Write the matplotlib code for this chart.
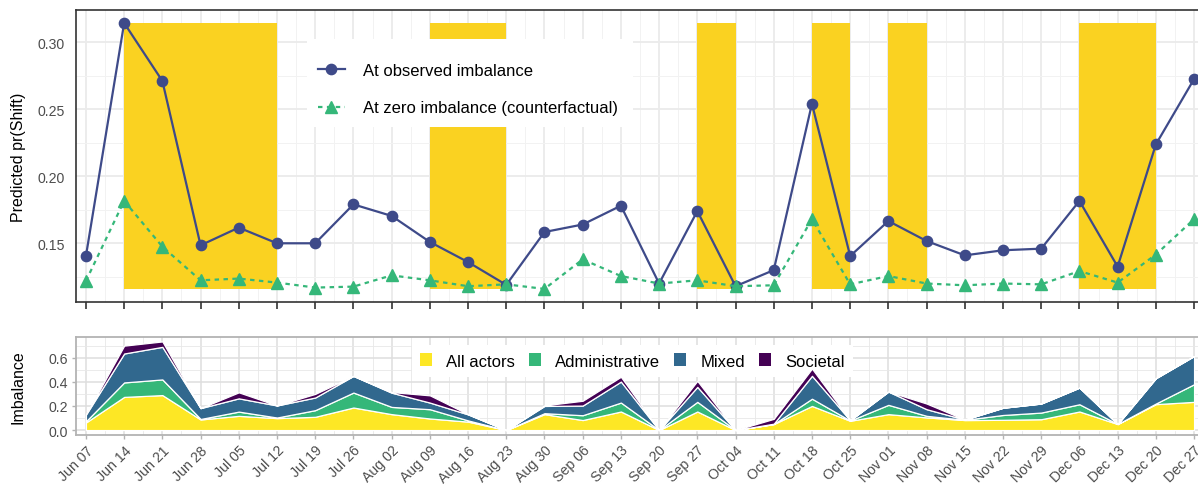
import matplotlib
matplotlib.use("Agg")
import matplotlib.pyplot as plt
from matplotlib.patches import Rectangle
from matplotlib.ticker import MultipleLocator, FixedLocator
import numpy as np

plt.rcParams["font.family"] = ["Liberation Sans", "DejaVu Sans"]

weeks = ["Jun 07", "Jun 14", "Jun 21", "Jun 28", "Jul 05", "Jul 12", "Jul 19", "Jul 26",
         "Aug 02", "Aug 09", "Aug 16", "Aug 23", "Aug 30", "Sep 06", "Sep 13", "Sep 20",
         "Sep 27", "Oct 04", "Oct 11", "Oct 18", "Oct 25", "Nov 01", "Nov 08", "Nov 15",
         "Nov 22", "Nov 29", "Dec 06", "Dec 13", "Dec 20", "Dec 27"]

pr_observed = [0.1405, 0.3142, 0.2710, 0.1485, 0.1617, 0.1500, 0.1500, 0.1790,
               0.1704, 0.1510, 0.1360, 0.1190, 0.1584, 0.1640, 0.1780, 0.1200,
               0.1740, 0.1180, 0.1300, 0.2540, 0.1405, 0.1666, 0.1517, 0.1410,
               0.1448, 0.1460, 0.1816, 0.1326, 0.2237, 0.2724]

pr_zero = [0.1219, 0.1816, 0.1475, 0.1224, 0.1237, 0.1207, 0.1170, 0.1177,
           0.1261, 0.1224, 0.1180, 0.1194, 0.1160, 0.1380, 0.1256, 0.1200,
           0.1224, 0.1180, 0.1187, 0.1680, 0.1194, 0.1256, 0.1200, 0.1187,
           0.1200, 0.1194, 0.1293, 0.1207, 0.1416, 0.1680]

shaded_periods = [("Jun 14", "Jul 12"), ("Aug 09", "Aug 23"), ("Sep 27", "Oct 04"),
                  ("Oct 18", "Oct 25"), ("Nov 01", "Nov 08"), ("Dec 06", "Dec 20")]

imb_all = [0.063, 0.275, 0.290, 0.088, 0.118, 0.099, 0.110, 0.187,
           0.132, 0.096, 0.070, 0.000, 0.132, 0.083, 0.154, 0.000,
           0.154, 0.000, 0.050, 0.200, 0.077, 0.132, 0.105, 0.083,
           0.085, 0.090, 0.154, 0.050, 0.215, 0.234]
imb_admin = [0.010, 0.120, 0.130, 0.004, 0.035, 0.005, 0.055, 0.124,
             0.060, 0.077, 0.010, 0.000, 0.008, 0.040, 0.074, 0.000,
             0.080, 0.000, 0.000, 0.060, 0.002, 0.077, 0.013, 0.002,
             0.040, 0.055, 0.060, 0.000, 0.005, 0.146]
imb_mixed = [0.055, 0.240, 0.270, 0.090, 0.110, 0.100, 0.105, 0.138,
             0.118, 0.055, 0.050, 0.000, 0.060, 0.080, 0.174, 0.000,
             0.124, 0.000, 0.003, 0.190, 0.003, 0.110, 0.055, 0.002,
             0.060, 0.075, 0.138, 0.000, 0.210, 0.234]
imb_societal = [0.000, 0.065, 0.045, 0.000, 0.050, 0.000, 0.030, 0.000,
                0.005, 0.060, 0.002, 0.000, 0.005, 0.040, 0.040, 0.000,
                0.050, 0.000, 0.040, 0.060, 0.000, 0.000, 0.047, 0.000,
                0.000, 0.000, 0.000, 0.000, 0.000, 0.000]

imb_labels = ["All actors", "Administrative", "Mixed", "Societal"]
imb_colors = ["#FDE725", "#35B779", "#31688E", "#440154"]

W, H = 1198, 489
fig = plt.figure(figsize=(W / 100, H / 100), dpi=100)

x = np.arange(len(weeks))
xlim = (-0.26, len(weeks) - 1 + 0.26)
left = 76 / W
width = 1128 / W

# ---- top panel ----
top_h = 292.5
ax1 = fig.add_axes([left, 1 - 303.2 / H, width, top_h / H])
all_vals = pr_observed + pr_zero
lo, hi = min(all_vals), max(all_vals)
pad = (hi - lo) * 0.05
ax1.set_ylim(lo - pad, hi + pad)
ax1.set_xlim(*xlim)

for start, end in shaded_periods:
    i0, i1 = weeks.index(start), weeks.index(end)
    ax1.fill_between([i0, i1], lo, hi, color="#FAD221", linewidth=0, zorder=1)

ax1.plot(x, pr_observed, color="#3E4A89", lw=1.6, marker="o", ms=7.4,
         label="At observed imbalance", zorder=3)
ax1.plot(x, pr_zero, color="#35B779", lw=1.6, ls=(0, (2, 2)), marker="^", ms=8,
         label="At zero imbalance (counterfactual)", zorder=3)

ax1.set_yticks([0.15, 0.20, 0.25, 0.30])
ax1.set_yticklabels(["0.15", "0.20", "0.25", "0.30"])
ax1.yaxis.set_minor_locator(MultipleLocator(0.025))
ax1.set_xticks(x)
ax1.set_xticklabels([])
ax1.xaxis.set_minor_locator(FixedLocator(x[:-1] + 0.5))
ax1.grid(which="major", color="#EBEBEB", lw=1.3, zorder=0)
ax1.grid(which="minor", color="#F2F2F2", lw=0.7, zorder=0)
ax1.set_axisbelow(True)
ax1.tick_params(axis="y", which="both", length=0, labelsize=10.2, labelcolor="#4D4D4D", pad=8)
ax1.tick_params(axis="x", which="major", length=5, width=1.2, color="#333333")
ax1.tick_params(axis="x", which="minor", length=0)
for s in ax1.spines.values():
    s.set_color("#333333")
    s.set_linewidth(1.2)
ax1.set_ylabel("Predicted pr(Shift)", fontsize=11.5)

# legend background box (pixels -> axes fraction)
box_x0, box_x1, box_y0, box_y1 = 307, 633, 40, 128
ax1.add_patch(Rectangle(((box_x0 - 76) / 1128, (303.2 - box_y1) / top_h),
                        (box_x1 - box_x0) / 1128, (box_y1 - box_y0) / top_h,
                        transform=ax1.transAxes, facecolor="white", edgecolor="none",
                        zorder=4))
leg1 = ax1.legend(loc="upper left", bbox_to_anchor=((318 - 76) / 1128, (303.2 - 64) / top_h),
                  borderaxespad=0, borderpad=0, fontsize=12, frameon=False,
                  handlelength=1.6, handletextpad=1.08, labelspacing=1.35)
leg1.set_zorder(5)

# ---- bottom panel ----
ax2 = fig.add_axes([left, 1 - 435.5 / H, width, 97.5 / H])
ax2.stackplot(x, imb_all, imb_admin, imb_mixed, imb_societal, labels=imb_labels,
              colors=imb_colors, edgecolor="white", linewidth=0.9, zorder=2)
ax2.set_xlim(*xlim)
totals = np.sum([imb_all, imb_admin, imb_mixed, imb_societal], axis=0)
tmax = totals.max()
ax2.set_ylim(-tmax * 0.05, tmax * 1.05)
ax2.set_yticks([0.0, 0.2, 0.4, 0.6])
ax2.set_yticklabels(["0.0", "0.2", "0.4", "0.6"])
ax2.yaxis.set_minor_locator(MultipleLocator(0.1))
ax2.set_xticks(x)
ax2.set_xticklabels(weeks, rotation=45, ha="right", rotation_mode="anchor")
ax2.xaxis.set_minor_locator(FixedLocator(x[:-1] + 0.5))
ax2.grid(which="major", color="#DEDEDE", lw=1.1, zorder=0)
ax2.grid(which="minor", color="#E8E8E8", lw=0.6, zorder=0)
ax2.set_axisbelow(True)
ax2.tick_params(which="major", length=3, width=1.0, color="#B3B3B3",
                labelsize=10.2, labelcolor="#4D4D4D")
ax2.tick_params(which="minor", length=0)
ax2.tick_params(axis="y", pad=3)
ax2.tick_params(axis="x", pad=3)
for s in ax2.spines.values():
    s.set_color("#B3B3B3")
    s.set_linewidth(1.3)
ax2.set_ylabel("Imbalance", fontsize=11.5)

leg2 = ax2.legend(loc="upper left", bbox_to_anchor=(0.298, 0.92), borderaxespad=0,
                  ncol=4, fontsize=12, frameon=True, fancybox=False, edgecolor="none",
                  framealpha=1, handlelength=0.7, handleheight=0.85,
                  handletextpad=0.85, columnspacing=0.85, borderpad=0.5)
for h in leg2.legend_handles:
    h.set_edgecolor("none")
leg2.set_zorder(1.5)

ax1.yaxis.set_label_coords(-50 / 1128, 0.5)
ax2.yaxis.set_label_coords(-50 / 1128, 0.5)

fig.savefig("out.png", dpi=100)
